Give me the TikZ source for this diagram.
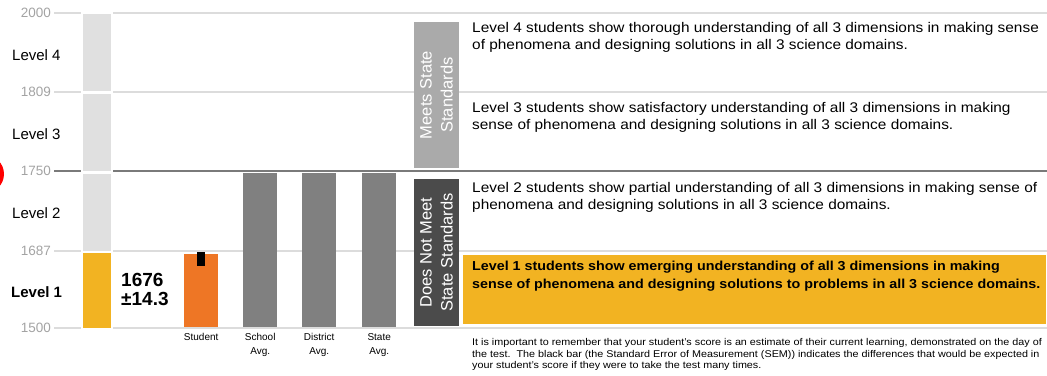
\documentclass[tikz,border=0pt]{standalone}
\usepackage{fontspec}
\setmainfont{Liberation Sans}
\newfontfamily\widefont{Liberation Sans}[FakeStretch=1.1]
\usetikzlibrary{positioning}

\definecolor{gridgray}{HTML}{DCDCDC}
\definecolor{cutgray}{HTML}{7A7A7A}
\definecolor{tickgray}{HTML}{A3A3A3}
\definecolor{colgray}{HTML}{E0E0E0}
\definecolor{lvlyellow}{HTML}{F2B322}
\definecolor{scoreorange}{HTML}{EE7625}
\definecolor{avggray}{HTML}{808080}
\definecolor{meetsgray}{HTML}{AAAAAA}
\definecolor{notmeetgray}{HTML}{4B4B4B}

\tikzset{
	gridline/.style={gridgray, line width=2.2pt},
	tick/.style={anchor=east, inner sep=0pt, text=tickgray, font=\fontsize{13.5}{15}\selectfont},
	levelname/.style={anchor=west, inner sep=0pt, font=\fontsize{15}{17}\selectfont},
	colseg/.style={fill=colgray, minimum width=28pt, minimum height=77pt, inner sep=0pt},
	bar/.style={fill=avggray, minimum width=34pt, anchor=south west, inner sep=0pt},
	barname/.style={inner sep=0pt, align=center, font=\fontsize{10}{14}\selectfont},
	band/.style={rotate=90, minimum height=45pt, inner sep=0pt, text=white, align=center,
		font=\fontsize{16.5}{21}\selectfont},
	desc/.style={anchor=north west, inner sep=0pt, align=left, font=\widefont\fontsize{14}{17.5}\selectfont},
}

\begin{document}
\begin{tikzpicture}[x=1pt, y=-1pt]
	\useasboundingbox (0,0) rectangle (1047,375);
	\fill[red] (-15,174) circle (19pt);

	% scale lines
	\foreach \y/\v in {13/2000, 92/1809, 251/1687, 328/1500} {
		\draw[gridline] (54,\y) -- (81,\y) (113,\y) -- (1047,\y);
		\node[tick] (t\v) at (51,\y) {\v};
	}
	\draw[cutgray, line width=2.5pt] (54,171) -- (81,171) (113,171) -- (1047,171);
	\node[tick] (t1750) at (51,171) {1750};

	\node[levelname] (name4) at (12,55) {Level 4};
	\node[levelname] (name3) at (12,134) {Level 3};
	\node[levelname] (name2) at (12,213) {Level 2};
	\node[levelname, font=\fontsize{15}{17}\selectfont\bfseries] (name1) at (11,292) {Level 1};

	\node[colseg, anchor=north west] (lv4) at (83,14) {};
	\node[colseg, below=2pt of lv4] (lv3) {};
	\node[colseg, below=3pt of lv3] (lv2) {};
	\node[colseg, fill=lvlyellow, minimum height=75pt, below=2pt of lv2] (lv1) {};

	\node[anchor=north west, inner sep=0pt, align=left, font=\fontsize{19}{19.5}\selectfont\bfseries]
		(score) at (121,273) {1676\\±14.3};

	\node[bar, fill=scoreorange, minimum height=73pt] (student) at (184,327) {};
	\node[fill=black, minimum width=8pt, minimum height=14pt, inner sep=0pt, anchor=north]
		(sem) at ([yshift=2pt]student.north) {};
	\node[bar, minimum height=154pt] (school) at (243,327) {};
	\node[bar, minimum height=154pt] (district) at (302,327) {};
	\node[bar, minimum height=154pt] (state) at (362,327) {};

	\node[barname, below=6pt of student] (studentname) {Student};
	\node[barname, below=6pt of school] (schoolname) {School\\Avg.};
	\node[barname, below=6pt of district] (districtname) {District\\Avg.};
	\node[barname, below=6pt of state] (statename) {State\\Avg.};

	% standards bands
	\node[band, fill=meetsgray, minimum width=146pt] (meets) at (436.5,95) {Meets State\\Standards};
	\node[band, fill=notmeetgray, minimum width=147pt] (notmeet) at (436.5,252.5) {Does Not Meet\\State Standards};

	\node[desc] (desc4) at (472,22) {Level 4 students show thorough understanding of all 3 dimensions in making sense\\of phenomena and designing solutions in all 3 science domains.};
	\node[desc] (desc3) at (472,102) {Level 3 students show satisfactory understanding of all 3 dimensions in making\\sense of phenomena and designing solutions in all 3 science domains.};
	\node[desc] (desc2) at (472,182) {Level 2 students show partial understanding of all 3 dimensions in making sense of\\phenomena and designing solutions in all 3 science domains.};

	\node[fill=lvlyellow, minimum width=583pt, minimum height=69pt, inner sep=0pt, anchor=north west]
		(lv1box) at (463,255) {};
	\node[desc, font=\widefont\fontsize{13}{17.5}\selectfont\bfseries] (desc1) at ([xshift=9pt, yshift=-6pt]lv1box.north west)
		{Level 1 students show emerging understanding of all 3 dimensions in making\\sense of phenomena and designing solutions to problems in all 3 science domains.};

	\node[desc, font=\widefont\fontsize{9.8}{11.7}\selectfont] (note) at (472,338) {It is important to remember that your student’s score is an estimate of their current learning, demonstrated on the day of\\the test.\ \ The black bar (the Standard Error of Measurement (SEM)) indicates the differences that would be expected in\\your student’s score if they were to take the test many times.};
\end{tikzpicture}
\end{document}
